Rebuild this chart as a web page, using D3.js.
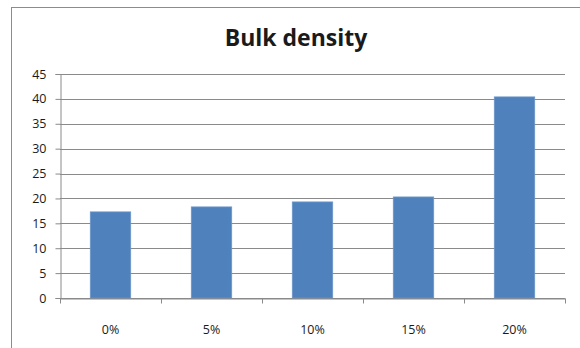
<!DOCTYPE html>
<html>
<head>
<meta charset="utf-8">
<script src="https://cdn.jsdelivr.net/npm/d3@7"></script>
<style>
  body { margin: 0; background: #fff; }
  svg text { font-family: "Open Sans", "Liberation Sans", sans-serif; fill: #1a1a1a; }
</style>
</head>
<body>
<div id="chart"></div>
<script>
const categories = ["0%", "5%", "10%", "15%", "20%"];
const values = [17.3, 18.3, 19.3, 20.3, 40.4];
const yTicks = [0, 5, 10, 15, 20, 25, 30, 35, 40, 45];
const title = "Bulk density";

const width = 580;
const height = 348;
const margin = { top: 74, right: 15, bottom: 50, left: 60 };

const svg = d3.select("#chart")
  .append("svg")
  .attr("width", width)
  .attr("height", height);

// outer chart frame (runs off the right and bottom of the picture)
svg.append("rect")
  .attr("x", 11.5)
  .attr("y", 7.5)
  .attr("width", 600)
  .attr("height", 400)
  .attr("fill", "none")
  .attr("stroke", "#8c8c8c");

svg.append("text")
  .attr("x", 296)
  .attr("y", 46)
  .attr("text-anchor", "middle")
  .style("font-size", "23px")
  .style("font-weight", "bold")
  .text(title);

const x = d3.scaleBand()
  .domain(categories)
  .range([margin.left, width - margin.right])
  .paddingInner(0.6)
  .paddingOuter(0.3);

const y = d3.scaleLinear()
  .domain([0, 45])
  .range([height - margin.bottom, margin.top]);

// gridlines
svg.append("g")
  .selectAll("line")
  .data(yTicks)
  .join("line")
  .attr("x1", margin.left)
  .attr("x2", width - margin.right)
  .attr("y1", d => Math.round(y(d)) + 0.5)
  .attr("y2", d => Math.round(y(d)) + 0.5)
  .attr("stroke", "#8a8a8a");

// bars
svg.append("g")
  .selectAll("rect")
  .data(values)
  .join("rect")
  .attr("x", (d, i) => x(categories[i]))
  .attr("y", d => y(d))
  .attr("width", x.bandwidth())
  .attr("height", d => y(0) - y(d))
  .attr("fill", "#4f81bd")
  .attr("stroke", "#6c97cb")
  .attr("stroke-width", 0.8);

// y axis
const yAxis = svg.append("g")
  .attr("transform", `translate(${margin.left + 0.5},0)`)
  .call(d3.axisLeft(y).tickValues(yTicks).tickSize(5).tickPadding(9));
yAxis.selectAll("text").style("font-size", "12.5px").attr("fill", "#1a1a1a");
yAxis.selectAll("line, path").attr("stroke", "#8a8a8a");

// x axis: labels centred in bands, ticks on band boundaries
const xAxis = svg.append("g")
  .attr("transform", `translate(0,${Math.round(y(0)) + 0.5})`)
  .call(d3.axisBottom(x).tickSize(0).tickPadding(27));
xAxis.selectAll("text").style("font-size", "12.5px").attr("fill", "#1a1a1a");
xAxis.select(".domain").attr("stroke", "#8a8a8a");

const bounds = d3.range(categories.length + 1).map(i => margin.left + i * x.step());
xAxis.selectAll(".bound")
  .data(bounds)
  .join("line")
  .attr("class", "bound")
  .attr("x1", d => Math.round(d) + 0.5)
  .attr("x2", d => Math.round(d) + 0.5)
  .attr("y1", 0)
  .attr("y2", 5)
  .attr("stroke", "#8a8a8a");
</script>
</body>
</html>
